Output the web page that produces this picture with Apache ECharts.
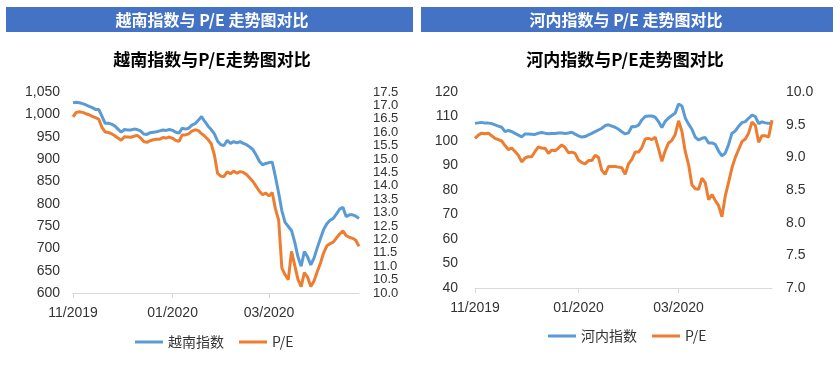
<!DOCTYPE html>
<html>
<head>
<meta charset="utf-8">
<script src="https://cdn.jsdelivr.net/npm/echarts@6/dist/echarts.min.js"></script>
<style>html,body{margin:0;padding:0;background:#fff}#c{width:840px;height:370px}</style>
</head>
<body>
<div id="c"></div>
<script>
const dates = [
'2019-11-01','2019-11-03','2019-11-05','2019-11-07','2019-11-09','2019-11-11','2019-11-13','2019-11-15','2019-11-17','2019-11-19','2019-11-21','2019-11-23','2019-11-25','2019-11-27','2019-11-29',
'2019-12-01','2019-12-03','2019-12-05','2019-12-07','2019-12-09','2019-12-11','2019-12-13','2019-12-15','2019-12-17','2019-12-19','2019-12-21','2019-12-23','2019-12-25','2019-12-27','2019-12-29','2019-12-31',
'2020-01-02','2020-01-04','2020-01-06','2020-01-08','2020-01-10','2020-01-12','2020-01-14','2020-01-16','2020-01-18','2020-01-20','2020-01-22','2020-01-24','2020-01-26','2020-01-28','2020-01-30',
'2020-02-01','2020-02-03','2020-02-05','2020-02-07','2020-02-09','2020-02-11','2020-02-13','2020-02-15','2020-02-17','2020-02-19','2020-02-21','2020-02-23','2020-02-25','2020-02-27','2020-02-29',
'2020-03-02','2020-03-04','2020-03-06','2020-03-08','2020-03-10','2020-03-12','2020-03-14','2020-03-16','2020-03-18','2020-03-20','2020-03-22','2020-03-24','2020-03-26','2020-03-28','2020-03-30',
'2020-04-01','2020-04-03','2020-04-05','2020-04-07','2020-04-09','2020-04-11','2020-04-13','2020-04-15','2020-04-17','2020-04-19','2020-04-21','2020-04-23','2020-04-25','2020-04-27'
];
const xTickLabels = {'2019-11-01':'11/2019','2020-01-02':'01/2020','2020-03-02':'03/2020'};

const vnIndex = [1026,1027,1026,1024,1021,1018,1015,1011,1011,996,980,980,978,974,967,960,966,965,965,967,966,963,956,955,959,960,961,963,965,964,966,964,960,958,969,967,969,976,979,987,995,984,974,966,956,940,932,930,942,935,939,936,939,935,932,927,921,909,895,887,890,892,893,860,824,784,758,749,740,714,681,660,693,681,663,678,701,722,742,755,763,767,777,788,792,771,775,775,772,767];
const vnPE = [16.57,16.74,16.76,16.74,16.69,16.65,16.59,16.54,16.49,16.18,16.01,15.99,15.94,15.87,15.78,15.70,15.83,15.82,15.81,15.85,15.88,15.79,15.65,15.62,15.68,15.72,15.74,15.74,15.80,15.78,15.82,15.77,15.69,15.66,15.90,15.90,15.94,16.04,16.09,16.06,15.95,15.85,15.73,15.57,15.15,14.46,14.36,14.35,14.52,14.45,14.55,14.47,14.53,14.50,14.42,14.29,14.16,13.98,13.80,13.67,13.73,13.62,13.75,13.14,12.72,10.93,10.68,10.50,11.55,11.03,10.51,10.24,10.76,10.59,10.24,10.45,10.79,11.11,11.50,11.76,11.84,11.90,12.06,12.20,12.32,12.14,12.08,12.04,11.97,11.74];
const hnIndex = [107.2,107.4,107.6,107.3,107.3,107.1,106.6,106.1,105.6,103.8,104.3,103.9,103.1,102.4,101.7,102.9,102.9,102.8,102.7,103.2,103.5,103.2,103.0,103.1,103.1,103.3,103.3,103.1,103.3,103.6,102.8,102.1,101.6,101.8,102.5,103.1,103.8,104.5,105.2,106.3,106.6,106.1,105.6,104.8,103.8,102.9,103.3,105.9,105.8,106.5,108.6,110.0,110.2,110.2,109.7,107.9,105.5,108.0,109.4,110.4,111.4,115.1,114.3,109.4,106.9,104.8,101.6,100.4,101.1,101.4,99.2,99.2,98.6,95.9,93.9,95.1,98.6,103.2,104.1,106.0,107.5,107.9,109.3,110.6,110.0,107.1,107.8,107.4,107.2,107.2];
const hnPE = [9.29,9.34,9.37,9.36,9.37,9.33,9.29,9.27,9.25,9.18,9.12,9.14,9.09,9.03,8.93,8.99,9.01,9.01,9.09,9.16,9.14,9.14,9.06,9.11,9.10,9.14,9.19,9.15,9.07,9.08,9.06,8.96,8.92,8.90,8.95,8.95,9.03,9.00,8.80,8.74,8.86,8.86,8.86,8.85,8.84,8.74,8.90,8.97,9.08,9.08,9.15,9.28,9.29,9.27,9.31,9.13,8.94,9.10,9.22,9.26,9.35,9.56,9.40,9.09,8.89,8.58,8.52,8.51,8.68,8.61,8.35,8.43,8.34,8.26,8.09,8.41,8.62,8.84,9.00,9.12,9.24,9.28,9.37,9.54,9.49,9.23,9.33,9.33,9.31,9.57];

const headerTitles = ['越南指数与 P/E 走势图对比', '河内指数与 P/E 走势图对比'];
const chartTitles = ['越南指数与P/E走势图对比', '河内指数与P/E走势图对比'];
const seriesNames = [['越南指数', 'P/E'], ['河内指数', 'P/E']];

const BLUE = '#5B9BD5', ORANGE = '#ED7D31';
const numFont = 'Liberation Sans, Arial, sans-serif';
const cjkFont = '"Noto Sans CJK SC", sans-serif';

function xAxis(gi) {
  return {
    type: 'category', gridIndex: gi, data: dates, boundaryGap: false,
    axisLine: {lineStyle: {color: '#d9d9d9', width: 1}},
    axisTick: {show: true, length: 5, lineStyle: {color: '#d9d9d9'}, interval: (i, v) => xTickLabels[v] !== undefined},
    axisLabel: {interval: (i, v) => xTickLabels[v] !== undefined, formatter: v => xTickLabels[v] || '',
      color: '#333', fontFamily: numFont, fontSize: 14, margin: 13},
    splitLine: {show: false}
  };
}
function yAxis(gi, pos, min, max, interval, fmt, margin, fs) {
  return {
    type: 'value', gridIndex: gi, position: pos, min: min, max: max, interval: interval,
    axisLine: {show: false}, axisTick: {show: false}, splitLine: {show: false},
    axisLabel: {color: '#333', fontFamily: numFont, fontSize: fs, lineHeight: fs, margin: margin, formatter: fmt,
      showMinLabel: true, showMaxLabel: true, hideOverlap: false}
  };
}
const fmtThousand = v => v.toLocaleString('en-US');
const fmt1 = v => v.toFixed(1);
const fmt0 = v => String(v);

const chart = echarts.init(document.getElementById('c'), null, {renderer: 'canvas'});
chart.setOption({
  backgroundColor: '#fff',
  animation: false,
  graphic: [
    {type: 'rect', shape: {x: 6, y: 7, width: 407, height: 25}, style: {fill: '#4472C4'}},
    {type: 'rect', shape: {x: 421, y: 7, width: 412, height: 25}, style: {fill: '#4472C4'}},
    {type: 'text', x: 212, y: 20, style: {text: headerTitles[0], fill: '#fff', font: 'bold 16px ' + cjkFont, textAlign: 'center', textVerticalAlign: 'middle'}},
    {type: 'text', x: 626, y: 20, style: {text: headerTitles[1], fill: '#fff', font: 'bold 16px ' + cjkFont, textAlign: 'center', textVerticalAlign: 'middle'}},
    {type: 'text', x: 212, y: 60, style: {text: chartTitles[0], fill: '#000', font: 'bold 17px ' + cjkFont, textAlign: 'center', textVerticalAlign: 'middle'}},
    {type: 'text', x: 625, y: 60, style: {text: chartTitles[1], fill: '#000', font: 'bold 17px ' + cjkFont, textAlign: 'center', textVerticalAlign: 'middle'}}
  ],
  legend: [
    {data: seriesNames[0], left: 135, top: 335, padding: 0, itemWidth: 28, itemHeight: 3, itemGap: 15, icon: 'rect',
      textStyle: {fontFamily: cjkFont, fontSize: 14, color: '#333'}},
    {data: seriesNames[1], left: 548, top: 329, padding: 0, itemWidth: 28, itemHeight: 3, itemGap: 15, icon: 'rect',
      textStyle: {fontFamily: cjkFont, fontSize: 14, color: '#333'}}
  ],
  grid: [
    {left: 73, top: 92, width: 286, height: 201},
    {left: 475, top: 92, width: 297, height: 196}
  ],
  xAxis: [xAxis(0), xAxis(1)],
  yAxis: [
    yAxis(0, 'left', 600, 1050, 50, fmtThousand, 13, 14),
    yAxis(0, 'right', 10, 17.5, 0.5, fmt1, 14, 13),
    yAxis(1, 'left', 40, 120, 10, fmt0, 17, 14),
    yAxis(1, 'right', 7, 10, 0.5, fmt1, 14, 14)
  ],
  series: [
    {name: seriesNames[0][0], type: 'line', xAxisIndex: 0, yAxisIndex: 0, data: vnIndex, showSymbol: false, lineStyle: {color: BLUE, width: 3}, itemStyle: {color: BLUE}},
    {name: seriesNames[0][1], type: 'line', xAxisIndex: 0, yAxisIndex: 1, data: vnPE, showSymbol: false, lineStyle: {color: ORANGE, width: 3}, itemStyle: {color: ORANGE}},
    {name: seriesNames[1][0], type: 'line', xAxisIndex: 1, yAxisIndex: 2, data: hnIndex, showSymbol: false, lineStyle: {color: BLUE, width: 3}, itemStyle: {color: BLUE}},
    {name: seriesNames[1][1], type: 'line', xAxisIndex: 1, yAxisIndex: 3, data: hnPE, showSymbol: false, lineStyle: {color: ORANGE, width: 3}, itemStyle: {color: ORANGE}}
  ]
});
</script>
</body>
</html>
